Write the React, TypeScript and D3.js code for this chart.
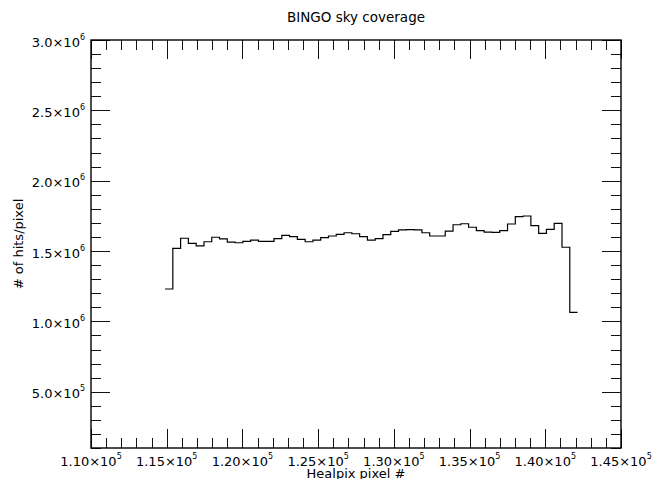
import { useEffect, useRef } from 'react';
import * as d3 from 'd3';

// Healpix pixel bins (first bin edge and bin width, in pixel index units)
const binStart = 114890;
const binWidth = 514;

// hits per pixel, one value per bin
const hits = [
    1230000, 1519000, 1591000, 1555000, 1536000, 1566000, 1598000, 1586000, 1564000, 1559000,
    1569000, 1578000, 1569000, 1569000, 1588000, 1612000, 1602000, 1583000, 1566000, 1578000,
    1595000, 1607000, 1619000, 1630000, 1623000, 1602000, 1578000, 1588000, 1616000, 1640000,
    1650000, 1652000, 1650000, 1630000, 1607000, 1607000, 1642000, 1687000, 1694000, 1669000,
    1645000, 1635000, 1633000, 1645000, 1692000, 1744000, 1749000, 1680000, 1626000, 1654000,
    1697000, 1527000, 1064000,
];

const xTickValues = [110000, 115000, 120000, 125000, 130000, 135000, 140000, 145000];
const xTickLabels = [['1.10', '5'], ['1.15', '5'], ['1.20', '5'], ['1.25', '5'], ['1.30', '5'], ['1.35', '5'], ['1.40', '5'], ['1.45', '5']];
const yTickValues = [500000, 1000000, 1500000, 2000000, 2500000, 3000000];
const yTickLabels = [['5.0', '5'], ['1.0', '6'], ['1.5', '6'], ['2.0', '6'], ['2.5', '6'], ['3.0', '6']];

export default function App() {
    const svgRef = useRef<SVGSVGElement>(null);
    const width = 653;
    const height = 479;
    const margin = { top: 40, right: 32, bottom: 31, left: 91 };

    useEffect(() => {
        if (!svgRef.current) return;
        const svg = d3.select(svgRef.current);
        svg.selectAll('*').remove();

        const x = d3.scaleLinear().domain([110000, 145000]).range([margin.left, width - margin.right]);
        const y = d3.scaleLinear().domain([100000, 3000000]).range([height - margin.bottom, margin.top]);
        const [x0, x1] = x.range();
        const [y0, y1] = y.range();

        const font = '"DejaVu Sans", sans-serif';

        // title
        svg.append('text')
            .attr('x', (x0 + x1) / 2)
            .attr('y', 22)
            .attr('text-anchor', 'middle')
            .attr('font-family', font)
            .attr('font-size', 13.5)
            .text('BINGO sky coverage');

        // ticks on all four sides, pointing inward
        const tickG = svg.append('g').attr('stroke', '#111').attr('stroke-width', 1);
        d3.range(110000, 145001, 1000).forEach(v => {
            const len = Math.round(v) % 5000 === 0 ? 19 : 10;
            const px = Math.round(x(v)) + 0.5;
            tickG.append('line').attr('x1', px).attr('x2', px).attr('y1', y0).attr('y2', y0 - len);
            tickG.append('line').attr('x1', px).attr('x2', px).attr('y1', y1).attr('y2', y1 + len);
        });
        d3.range(100000, 3000001, 100000).forEach(v => {
            const len = Math.round(v) % 500000 === 0 ? 19 : 10;
            const py = Math.round(y(v)) + 0.5;
            tickG.append('line').attr('x1', x0).attr('x2', x0 + len).attr('y1', py).attr('y2', py);
            tickG.append('line').attr('x1', x1).attr('x2', x1 - len).attr('y1', py).attr('y2', py);
        });

        // frame
        svg.append('rect')
            .attr('x', x0)
            .attr('y', y1)
            .attr('width', x1 - x0)
            .attr('height', y0 - y1)
            .attr('fill', 'none')
            .attr('stroke', '#000')
            .attr('stroke-width', 1.4);

        // x tick labels with superscript exponent
        xTickValues.forEach((v, i) => {
            const t = svg.append('text')
                .attr('x', x(v))
                .attr('y', y0 + 18)
                .attr('text-anchor', 'middle')
                .attr('font-family', font)
                .attr('font-size', 13);
            t.append('tspan').text(`${xTickLabels[i][0]}×10`);
            t.append('tspan').attr('dy', -7).attr('font-size', 8).text(xTickLabels[i][1]);
        });

        yTickValues.forEach((v, i) => {
            const t = svg.append('text')
                .attr('x', x0 - 6)
                .attr('y', y(v) + 6.5)
                .attr('text-anchor', 'end')
                .attr('font-family', font)
                .attr('font-size', 13);
            t.append('tspan').text(`${yTickLabels[i][0]}×10`);
            t.append('tspan').attr('dy', -7).attr('font-size', 8).text(yTickLabels[i][1]);
        });

        // axis titles
        svg.append('text')
            .attr('x', (x0 + x1) / 2)
            .attr('y', 478)
            .attr('text-anchor', 'middle')
            .attr('font-family', font)
            .attr('font-size', 13)
            .text('Healpix pixel #');

        svg.append('text')
            .attr('transform', `translate(23,${(y0 + y1) / 2}) rotate(-90)`)
            .attr('text-anchor', 'middle')
            .attr('font-family', font)
            .attr('font-size', 13)
            .text('# of hits/pixel');

        // step line: each bin drawn flat across its width
        const points: [number, number][] = hits.map((h, i) => [binStart + i * binWidth, h]);
        points.push([binStart + hits.length * binWidth, hits[hits.length - 1]]);

        const line = d3.line<[number, number]>()
            .x(d => x(d[0]))
            .y(d => y(d[1]))
            .curve(d3.curveStepAfter);

        svg.append('path')
            .attr('d', line(points) || '')
            .attr('fill', 'none')
            .attr('stroke', '#000')
            .attr('stroke-width', 1.2);
    }, []);

    return (
        <svg
            ref={svgRef}
            width={width}
            height={height}
            viewBox={`0 0 ${width} ${height}`}
            style={{ position: 'absolute', left: 0, top: 0, background: '#fff' }}
        />
    );
}
